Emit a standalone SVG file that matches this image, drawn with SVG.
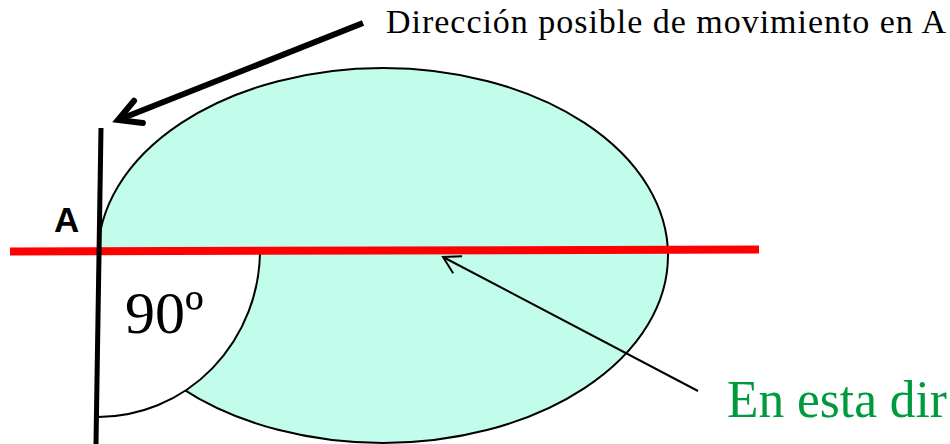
<svg xmlns="http://www.w3.org/2000/svg" width="950" height="444" viewBox="0 0 950 444">
<style>
.serif{font-family:"Liberation Serif","Times New Roman",serif;}
.sans{font-family:"Liberation Sans",Arial,sans-serif;}
</style>
<defs>
<marker id="headBig" markerUnits="userSpaceOnUse" markerWidth="40" markerHeight="40" refX="0" refY="0" viewBox="-30 -20 40 40" orient="auto" overflow="visible">
<path d="M-22,-12 L0,0 L-22,12" fill="none" stroke="#000" stroke-width="6" stroke-linejoin="miter" stroke-linecap="round"/>
</marker>
<marker id="headThin" markerUnits="userSpaceOnUse" markerWidth="30" markerHeight="30" refX="0" refY="0" viewBox="-20 -15 30 30" orient="auto" overflow="visible">
<path d="M-16.5,-9.6 L0,0 L-16.5,9.6" fill="none" stroke="#000" stroke-width="2"/>
</marker>
</defs>
<rect width="950" height="444" fill="#fff"/>
<g id="body">
<ellipse cx="383" cy="255.5" rx="285" ry="187.5" fill="#C2FDEC" stroke="#000" stroke-width="2"/>
</g>
<g id="angle90">
<path d="M98,250 L260,250 A162,167 0 0 1 98,417 Z" fill="#fff" stroke="#000" stroke-width="2"/>
<text class="serif" x="125" y="333" font-size="60">90º</text>
</g>
<g id="tangent">
<line x1="10" y1="251.5" x2="759" y2="249.5" stroke="#FF0000" stroke-width="8"/>
</g>
<g id="normal">
<line x1="101" y1="128" x2="96" y2="444" stroke="#000" stroke-width="5"/>
<text class="sans" x="54" y="232" font-size="35" font-weight="bold">A</text>
</g>
<g id="connectors">
<line x1="363" y1="23" x2="118" y2="120" stroke="#000" stroke-width="6" marker-end="url(#headBig)"/>
<line x1="698" y1="391" x2="443" y2="257" stroke="#000" stroke-width="2" marker-end="url(#headThin)"/>
</g>
<g id="label-top">
<text class="serif" x="386" y="33" font-size="34" textLength="560" lengthAdjust="spacing">Dirección posible de movimiento en A</text>
</g>
<g id="label-bottom">
<text class="serif" x="727" y="417" font-size="52" fill="#009A3E" textLength="220" lengthAdjust="spacingAndGlyphs">En esta dir</text>
</g>
</svg>
